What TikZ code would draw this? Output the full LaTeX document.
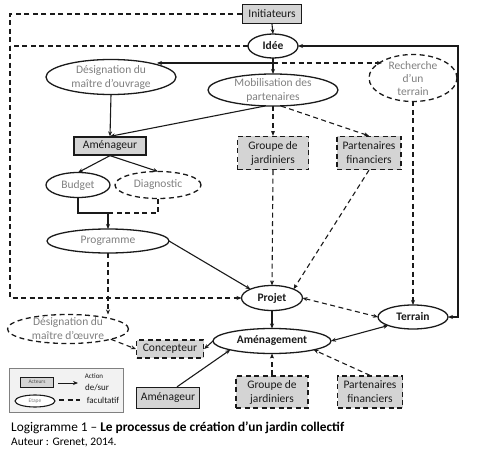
\documentclass[tikz,border=0pt]{standalone}
\usepackage{fontspec}
\setmainfont{Carlito}
\usetikzlibrary{shapes.geometric,arrows.meta,calc}
\definecolor{boxgray}{HTML}{D4D4D4}
\definecolor{txtgray}{HTML}{808080}
\definecolor{ink}{HTML}{1A1A1A}
\definecolor{leggray}{HTML}{F2F2F2}
\begin{document}
\begin{tikzpicture}[x=1pt,y=-1pt,
  font=\fontsize{11.5}{14}\selectfont,
  tip/.style={-{Stealth[length=5pt,width=4pt]}},
  tips/.style={{Stealth[length=5pt,width=4pt]}-{Stealth[length=5pt,width=4pt]}},
  sol/.style={draw=ink,line width=1.1pt},
  dsh/.style={draw=ink,line width=1.1pt,dash pattern=on 5pt off 3.5pt},
  ell/.style 2 args={ellipse,draw=ink,line width=1.3pt,inner sep=0pt,outer sep=0pt,minimum width=#1pt,minimum height=#2pt},
  dell/.style 2 args={ell={#1}{#2},dash pattern=on 5pt off 3.5pt},
  gt/.style={text=txtgray,align=center,font=\fontsize{11.5}{14}\selectfont},
  bt/.style={text=ink,align=center,font=\fontsize{11.5}{14}\selectfont\bfseries},
  actbox/.style 2 args={rectangle,draw=ink,fill=boxgray,line width=1.3pt,inner sep=1pt,align=center,text=ink,minimum width=#1pt,minimum height=#2pt},
  dactbox/.style 2 args={actbox={#1}{#2},dash pattern=on 5pt off 3.5pt}
]
\useasboundingbox (0,0) rectangle (480,452);

% nodes
\node[actbox={59}{19}] (init) at (272,14) {Initiateurs};
\node[ell={50}{24}] (idee) at (273,46) {};
\node[bt] (ideet) at (idee) {Idée};
\node[ell={130}{35}] (dmo) at (111,77) {};
\node[gt] (dmot) at (dmo) {Désignation du\\maître d’ouvrage};
\node[ell={130}{32}] (mob) at (273,90) {};
\node[gt] (mobt) at (mob) {Mobilisation des\\partenaires};
\node[dell={88}{47}] (rech) at (413,78) {};
\node[gt,font=\fontsize{11.5}{13}\selectfont] (recht) at ($(rech)+(0,1)$) {Recherche\\d’un\\terrain};
\node[actbox={72}{18}] (ame1) at (110,146) {Aménageur};
\node[dactbox={71}{33}] (gj1) at (273,153) {Groupe de\\jardiniers};
\node[dactbox={64}{33}] (pf1) at (369,153) {Partenaires\\financiers};
\node[ell={64}{25}] (budget) at (78,185) {};
\node[gt] (budgett) at (budget) {Budget};
\node[dell={86}{27}] (diag) at (158,185) {};
\node[gt] (diagt) at (diag) {Diagnostic};
\node[ell={122}{24}] (prog) at (108,241) {};
\node[gt] (progt) at (prog) {Programme};
\node[ell={61}{25}] (projet) at (272,298) {};
\node[bt] (projett) at (projet) {Projet};
\node[ell={70}{24}] (terrain) at (413,317) {};
\node[bt] (terraint) at (terrain) {Terrain};
\node[dell={121}{29}] (dmoe) at (68,329) {};
\node[gt] (dmoet) at (dmoe) {Désignation du\\maître d’œuvre};
\node[ell={118}{25}] (amen) at (272,341) {};
\node[bt] (ament) at (amen) {Aménagement};
\node[dactbox={67}{18}] (conc) at (170,349) {Concepteur};
\node[actbox={63}{21}] (ame2) at (168,398) {Aménageur};
\node[dactbox={72}{32}] (gj2) at (272,392) {Groupe de\\jardiniers};
\node[dactbox={65}{32}] (pf2) at (370,392) {Partenaires\\financiers};

% helper coordinates
\coordinate (cL) at (10,200);
\coordinate (cR) at (458,200);
\coordinate (jI) at (273,63);
\coordinate (jB) at (108,213);

% connectors
\draw[sol,tip] (init.south) -- (idee.north);
\draw[dsh,tip] (init.west) -| (cL) |- (projet.west);
\draw[dsh] (idee.west) -- (idee.west -| cL);
\draw[sol] (idee.south) -- (jI);
\draw[sol,tip] (jI) -- (mob.north);
\draw[sol,tip] (jI) -- (jI -| dmo.north east);
\draw[dsh,tip] (jI) -- (jI -| rech.north west);
\draw[sol,tips] (terrain.east) -| (cR) |- (idee.east);
\draw[sol,tip] (dmo.south) -- (ame1.north);
\draw[sol,tip] ($(mob.south)+(-8,0)$) -- (ame1.north);
\draw[dsh,tip] (mob.south) -- (gj1.north);
\draw[dsh,tip] ($(mob.south)+(8,0)$) -- (pf1.north);
\draw[dsh,tip] (rech.south) -- (terrain.north);
\draw[sol,tip] (ame1.south) -- (budget.north);
\draw[sol,tip] (ame1.south) -- (diag.north);
\draw[sol] (budget.south) |- (jB);
\draw[dsh] (diag.south) |- (jB);
\draw[sol,tip] (jB) -- (prog.north);
\draw[sol,tip] (prog.east) -- (projet.north west);
\draw[dsh,tip] (prog.south) -- (prog.south |- dmoe.north);
\draw[dsh,tip] (gj1.south) -- (projet.north);
\draw[dsh,tip] (pf1.south) -- (projet.north east);
\draw[dsh,tips] (projet.east) -- (terrain.west);
\draw[sol,tip] (projet.south) -- (amen.north);
\draw[sol,tips] (terrain.south west) -- (amen.east);
\draw[dsh,tip] (dmoe.south east) -- (conc.west);
\draw[sol,tip] (amen.west) -- (conc.east);
\draw[sol,tip] ($(ame2.north)+(9,0)$) -- (amen.south west);
\draw[dsh,tip] (gj2.north) -- (amen.south);
\draw[dsh,tip] (pf2.north) -- (amen.south east);

% legend
\node[rectangle,draw=txtgray,fill=leggray,line width=0.8pt,minimum width=114pt,minimum height=44pt,inner sep=0pt] (leg) at (66,390) {};
\node[rectangle,draw=ink,fill=boxgray,line width=1pt,minimum width=33pt,minimum height=10pt,inner sep=0pt,font=\fontsize{5.5}{6}\selectfont,text=txtgray!60!black] (legact) at (37,382) {Acteurs};
\node[ellipse,draw=ink,fill=white,line width=1.1pt,minimum width=40pt,minimum height=12pt,inner sep=0pt,font=\fontsize{5.5}{6}\selectfont,text=txtgray] (legeta) at (35,401) {Etape};
\coordinate (la1) at (58,383);
\coordinate (la2) at (78,383);
\coordinate (ld1) at (59,400);
\coordinate (ld2) at (80,400);
\draw[sol,tip,line width=1pt] (la1) -- (la2);
\draw[draw=ink,line width=1.3pt,dash pattern=on 5pt off 3.5pt] (ld1) -- (ld2);
\node[font=\fontsize{7}{8}\selectfont,text=ink] (legaction) at (94,376) {Action};
\node[font=\fontsize{9}{10}\selectfont,text=ink] (legdesur) at (97,388) {de/sur};
\node[font=\fontsize{9}{10}\selectfont,text=ink] (legfac) at (103,400) {facultatif};

% caption
\node[anchor=west,inner sep=0pt,font=\fontsize{13.3}{15}\selectfont,text=black] (cap) at (11,428) {Logigramme 1 – \textbf{Le processus de création d’un jardin collectif}};
\node[anchor=west,inner sep=0pt,font=\fontsize{11.5}{13}\selectfont,text=black] (auth) at (11,443) {Auteur : Grenet, 2014.};
\end{tikzpicture}
\end{document}
